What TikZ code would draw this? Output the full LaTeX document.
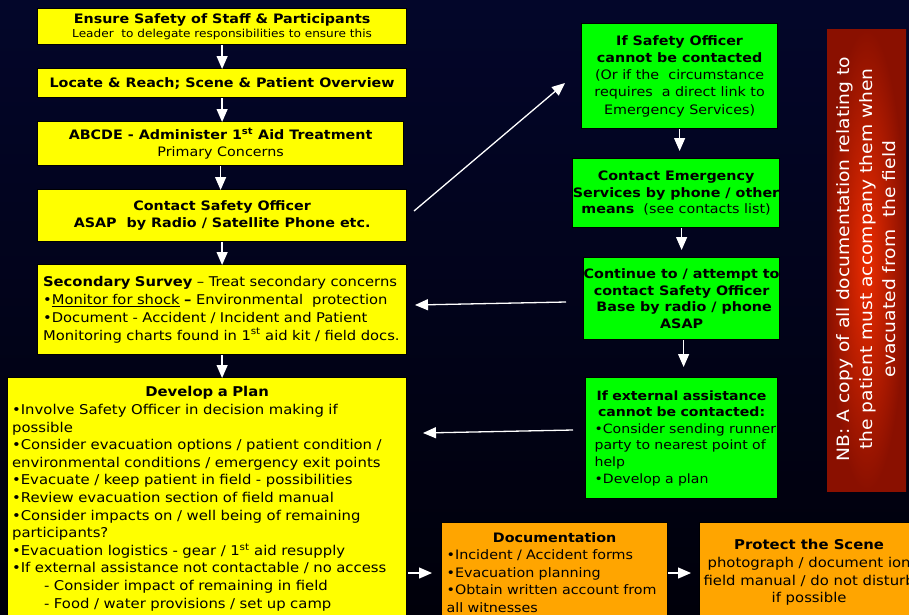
\documentclass[tikz,border=0pt]{standalone}
\usepackage{fontspec}
\setmainfont[FakeStretch=1.1]{DejaVu Sans}
\usetikzlibrary{arrows.meta}
\definecolor{bgtop}{HTML}{03062A}
\definecolor{bgmid}{HTML}{0C1C80}
\definecolor{bgbot}{HTML}{00000A}
\definecolor{byellow}{HTML}{FFFF00}
\definecolor{bgreen}{HTML}{00FF00}
\definecolor{borange}{HTML}{FFA500}
\definecolor{redin}{HTML}{EC2C00}
\definecolor{redout}{HTML}{8A1000}
\tikzset{
  box/.style={draw=black, line width=1.2pt, inner sep=0pt, align=center, anchor=north west, text=black},
  ybox/.style={box, fill=byellow},
  gbox/.style={box, fill=bgreen},
  obox/.style={box, fill=borange},
  warrow/.style={draw=white, line width=1.3pt, -{Triangle[width=11pt,length=13pt]}},
  fa/.style={font=\fontsize{13}{17}\selectfont},
}
\begin{document}
\begin{tikzpicture}[x=1pt,y=-1pt]
\useasboundingbox (0,0) rectangle (909,614);
\clip (0,0) rectangle (909,614);
\shade[top color=bgtop, middle color=bgmid, bottom color=bgbot] (0,0) rectangle (909,614);

% left column
\node[ybox, minimum width=369, minimum height=36, font=\fontsize{11}{14.5}\selectfont] (b1) at (37,8)
  {{\fontsize{13}{14.5}\selectfont\bfseries Ensure Safety of Staff \& Participants}\\Leader\ \ to delegate responsibilities to ensure this};
\node[ybox, minimum width=369, minimum height=29, font=\fontsize{13}{17}\selectfont\bfseries] (b2) at (37,68)
  {Locate \& Reach; Scene \& Patient Overview};
\node[ybox, minimum width=366, minimum height=44, fa] (b3) at (37,121)
  {\textbf{ABCDE - Administer 1\textsuperscript{st} Aid Treatment}\\Primary Concerns};
\node[ybox, minimum width=369, minimum height=52, font=\fontsize{13}{17}\selectfont\bfseries] (b4) at (37,189)
  {Contact Safety Officer\\ASAP\ \ by Radio / Satellite Phone etc.};
\node[ybox, text width=358, inner xsep=5.5, minimum height=90, align=left, font=\fontsize{13.4}{17.8}\selectfont] (b5) at (37,264)
  {\textbf{Secondary Survey} – Treat secondary concerns\\
   •\underline{Monitor for shock} \textbf{–} Environmental\ \ protection\\
   •Document - Accident / Incident and Patient\\
   Monitoring charts found in 1\textsuperscript{st} aid kit / field docs.};
\node[ybox, text width=390, inner xsep=4.5, inner ysep=9, align=left, font=\fontsize{13.5}{17.6}\selectfont] (b6) at (7,377)
  {\makebox[390pt]{\bfseries Develop a Plan}\\
   •Involve Safety Officer in decision making if\\
   possible\\
   •Consider evacuation options / patient condition /\\
   environmental conditions / emergency exit points\\
   •Evacuate / keep patient in field - possibilities\\
   •Review evacuation section of field manual\\
   •Consider impacts on / well being of remaining\\
   participants?\\
   •Evacuation logistics - gear / 1\textsuperscript{st} aid resupply\\
   •If external assistance not contactable / no access\\
   \hspace*{32pt}- Consider impact of remaining in field\\
   \hspace*{32pt}- Food / water provisions / set up camp\\
   \ };

% right column
\node[gbox, minimum width=196, minimum height=105, font=\fontsize{13}{17.3}\selectfont] (g1) at (581,23)
  {\textbf{If Safety Officer}\\\textbf{cannot be contacted}\\(Or if the\ \ circumstance\\requires\ \ a direct link to\\Emergency Services)};
\node[gbox, minimum width=207, minimum height=69, font=\fontsize{13}{16.6}\selectfont] (g2) at (572,158)
  {\textbf{Contact Emergency}\\\textbf{Services by phone / other}\\\textbf{means}\ \ (see contacts list)};
\node[gbox, minimum width=196, minimum height=82, font=\fontsize{13}{16.5}\selectfont\bfseries] (g3) at (583,257)
  {Continue to / attempt to\\contact Safety Officer\\\ Base by radio / phone\\ASAP};
\node[gbox, text width=186, inner xsep=3, minimum height=121, align=left, font=\fontsize{12.8}{16.6}\selectfont] (g4) at (585,377)
  {\makebox[186pt]{\bfseries If external assistance}\\
   \makebox[186pt]{\bfseries cannot be contacted:}\\
   \hspace*{6pt}\mbox{•Consider sending runner}\\\hspace*{6pt}\mbox{party to nearest point of}\\\hspace*{6pt}help\\\hspace*{6pt}•Develop a plan};

% bottom
\node[obox, minimum height=100, text width=216, inner xsep=5, inner ysep=6, align=left, font=\fontsize{13}{17.5}\selectfont] (o1) at (441,522)
  {\makebox[216pt]{\bfseries Documentation}\\
   •Incident / Accident forms\\•Evacuation planning\\•Obtain written account from\\all witnesses};
\node[obox, minimum width=219, minimum height=100, font=\fontsize{13.5}{17.6}\selectfont] (o2) at (699,522)
  {\textbf{Protect the Scene}\\photograph / document ion\\field manual / do not disturb\\if possible};

% note
\shade[inner color=redin, outer color=redout, shading=radial] (827,29) rectangle (906,491);
\node[rotate=90, text=white, align=center, font=\fontsize{17}{23}\selectfont] (nb) at (866.5,259)
  {NB: A copy of all documentation relating to\\the patient must accompany them when\\evacuated from\ \ the field};

% connectors
\draw[warrow] (b1.south) -- ([yshift=-1]b1.south |- b2.north);
\draw[warrow] (b2.south) -- ([yshift=-1]b2.south |- b3.north);
\draw[warrow] (b3.south) -- ([yshift=-1]b3.south |- b4.north);
\draw[warrow] (b4.south) -- ([yshift=-1]b4.south |- b5.north);
\draw[warrow] (b5.south) -- ([yshift=-1]b5.south |- b6.north);

\coordinate (d1) at (414,211);
\coordinate (d2) at (565,83);
\draw[warrow] (d1) -- (d2);

\draw[warrow, shorten >=7pt] (g1.south) -- (g1.south |- g2.north);
\draw[warrow, shorten >=7pt] (g3.north |- g2.south) -- (g3.north);
\draw[warrow, shorten >=10pt] ([xshift=2]g3.south) -- ([xshift=2]g3.south |- g4.north);

\coordinate (l1s) at (566,302);
\coordinate (l1e) at (415,305);
\draw[warrow] (l1s) -- (l1e);
\coordinate (l2s) at (573,430);
\coordinate (l2e) at (423,433);
\draw[warrow] (l2s) -- (l2e);

\coordinate (h1s) at (408,573);
\coordinate (h1e) at (432,573);
\draw[warrow] (h1s) -- (h1e);
\coordinate (h2s) at (668,573);
\coordinate (h2e) at (691,573);
\draw[warrow] (h2s) -- (h2e);
\end{tikzpicture}
\end{document}
